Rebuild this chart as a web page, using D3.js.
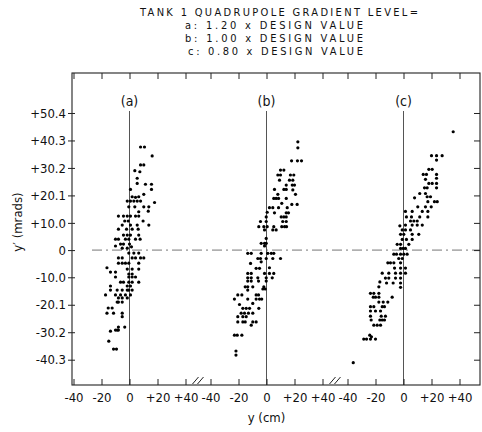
<!DOCTYPE html>
<html>
<head>
<meta charset="utf-8">
<script src="https://cdn.jsdelivr.net/npm/d3@7"></script>
<style>
  html, body { margin: 0; padding: 0; background: #fff; }
  svg { display: block; }
  text { font-family: "DejaVu Sans Condensed", "DejaVu Sans", "Liberation Sans Narrow", sans-serif; font-stretch: condensed; fill: #111; }
</style>
</head>
<body>
<script>
// ---------------- DATA ----------------
const titleLines = [
  "TANK 1 QUADRUPOLE GRADIENT LEVEL=",
  "a:  1.20 x DESIGN  VALUE",
  "b:  1.00 x DESIGN  VALUE",
  "c:  0.80 x DESIGN  VALUE"
];
const categories = ["a", "b", "c"];
const panelLabels = ["(a)", "(b)", "(c)"];
const xTicks = [-40, -20, 0, 20, 40];
const xTickLabels = ["-40", "-20", "0", "+20", "+40"];
const yTicks = [50.4, 40.3, 30.2, 20.1, 10.0, 0, -10.0, -20.1, -30.2, -40.3];
const yTickLabels = ["+50.4", "+40.3", "+30.2", "+20.1", "+10.0", "0", "-10.0", "-20.1", "-30.2", "-40.3"];
const xTitle = "y (cm)";
const yTitle = "y\u2032 (mrads)";

// [y (cm), y' (mrad)]
const seriesA = [
  [7.9,37.9],[10.7,37.9],[16.2,34.6],[7.9,31.3],[10.2,31.3],[3.8,29.2],[7.4,28.8],[5.5,26.4],
  [5.5,24.5],[11.4,24.2],[15.7,24.2],[0.7,22.3],[15.7,22.3],[1.9,19.6],[4.3,19.4],[6.6,19.6],
  [10.2,20.5],[-1.6,18.0],[0.7,18.0],[3.1,18.0],[5.5,18.0],[7.9,18.0],[17.9,17.5],[-0.5,15.9],
  [3.8,15.9],[10.2,15.9],[13.8,15.9],[6.6,14.1],[13.4,14.3],[-7.9,12.5],[-4.3,12.5],[-1.6,12.5],
  [0.7,12.5],[4.3,12.5],[6.6,12.5],[-3.4,10.7],[-0.9,10.7],[9.7,10.7],[-5.2,9.2],[0.7,9.2],
  [5.5,9.2],[13.8,9.2],[-7.9,7.7],[-2.1,7.7],[1.9,7.7],[6.2,7.7],[-4.3,5.5],[-1.6,5.5],
  [0.7,5.5],[6.6,5.5],[-10,4.0],[-7.9,4.0],[-2.9,4.0],[-0.5,4.0],[4.3,4.0],[7.6,4.0],
  [-6.4,2.2],[-4.3,2.2],[0,2.2],[-10,1.5],[-5.2,0.7],[-1.6,0.7],[1.4,1.2],
  [-0.5,-1.1],[3.1,-1.1],[6.6,-1.1],[-7.9,-2.9],[-5.2,-2.9],[1.9,-2.9],[4.3,-2.9],[7.9,-2.9],
  [10.2,-2.9],[-7.9,-4.8],[-5.2,-4.8],[-2.9,-4.8],[-0.5,-4.8],[6.6,-4.8],[-16.1,-6.5],
  [-1.6,-7.0],[1.9,-7.0],[6.6,-7.0],[-13.6,-8.1],[-10,-8.1],[-0.5,-8.8],[1.9,-8.8],
  [-10,-9.9],[-0.5,-9.9],[1.9,-9.9],[4.3,-9.9],[-6.4,-11.8],[-4.3,-11.8],[-0.5,-11.8],
  [1.9,-11.8],[6.6,-11.8],[-13.6,-13.2],[-1.6,-13.2],[0.7,-13.2],[-13.6,-14.7],[-8.8,-14.7],
  [-5.2,-14.7],[-1.6,-14.7],[-0.5,-14.7],[1.9,-14.7],[-17.1,-16.5],[-10,-16.5],[-6.4,-16.5],
  [-2.9,-16.5],[0.7,-16.5],[-7.9,-17.6],[-5.2,-17.6],[-1.6,-17.6],[-8.8,-19.1],[-7.9,-19.1],
  [-5.2,-19.1],[-15.2,-21.3],[-12.4,-21.3],[-16.1,-23.2],[-11.4,-23.2],[-5.2,-23.2],[-5.2,-24.5],
  [-7.9,-28.3],[-3.4,-28.3],[-10,-29.4],[-8.8,-29.4],[-7.9,-29.4],[-13.6,-29.8],[-14.8,-33.5],
  [-11.4,-36.4],[-9.3,-36.4]
];
const seriesB = [
  [22.4,39.8],[22.4,37.6],[17.9,32.8],[22.1,32.8],[25,32.8],[10,29.4],[12.4,29.4],[8.1,27.6],
  [10,27.6],[17.1,27.6],[19.5,27.6],[9.3,25.7],[16.4,25.7],[18.8,25.7],[14.1,23.9],[18.4,23.9],
  [20,23.9],[5.7,22.3],[12.4,22.3],[14.1,22.3],[18.8,22.1],[8.1,20.5],[20.7,20.5],[5.2,19.0],
  [6.9,19.0],[8.6,19.0],[14.1,19.0],[10.9,17.2],[18.1,16.8],[21.9,16.8],[2.1,15.6],[4.5,15.6],
  [8.6,15.6],[14.8,15.6],[0.5,13.9],[5.7,13.7],[14.1,13.7],[15.7,13.7],[-0.2,12.2],[10.5,12.2],
  [12.4,12.2],[14.1,12.2],[-4.3,10.5],[-0.2,10.5],[11.6,10.5],[14.1,10.5],[-5.5,8.6],[-1.9,8.6],
  [0.5,8.6],[5.2,8.6],[10.9,8.6],[12.9,8.6],[14.3,8.6],[-1.4,7.4],[4.5,7.4],[6.9,7.4],
  [-0.2,4.3],[-3.8,2.5],[-1.4,2.5],[-0.2,2.5],[-1.4,1.5],
  [-13.4,-1.2],[-10.9,-1.2],[-3.8,-1.2],[0.9,-1.2],[3.4,-1.2],[5.2,-1.2],[-6.2,-3.1],[-4.3,-3.1],
  [-0.2,-3.1],[4.5,-3.1],[10,-3.1],[-11.4,-4.9],[-3.8,-4.3],[-7.4,-6.7],[-5,-6.7],[2.1,-6.5],
  [-13.4,-8.6],[-10.9,-8.6],[-1.4,-8.6],[2.1,-8.6],[5.2,-8.6],[-13.4,-10.2],[-10.9,-10.2],
  [-6.2,-10.2],[-0.2,-10.2],[4.1,-10.2],[-13.4,-11.4],[-10.9,-11.4],[-5.7,-11.4],[-0.2,-11.4],
  [-15.2,-13.5],[-13.4,-13.5],[-9.8,-13.5],[-1.9,-13.5],[-13.4,-14.7],[-2.6,-14.3],[-0.9,-14.3],
  [-20.5,-16.5],[-17.6,-16.5],[-7.4,-16.5],[-5.7,-16.5],[-22.9,-18],[-13.4,-18],[-7.4,-18],
  [-5,-18],[-3.4,-18],[-19.3,-20],[-9.8,-19.6],[-16.9,-21.4],[-14.5,-21.4],[-12.1,-21.4],
  [-5.5,-21.4],[-18.1,-23.2],[-15.7,-23.2],[-12.9,-23.2],[-9.8,-23.2],[-20.5,-24.5],[-16.9,-24.5],
  [-14.5,-24.5],[-20.5,-26.4],[-16.9,-26.4],[-15.2,-26.4],[-9.8,-26.4],[-7.4,-26.4],[-10.9,-27.6],
  [-22.9,-31.3],[-20.9,-31.3],[-17.6,-31.3],[-21.8,-37.1],[-21.8,-38.6]
];
const seriesC = [
  [35.5,43.5],[20,34.7],[23.6,34.7],[27.6,34.7],[23.6,33.1],[18.1,29.7],[20.5,29.7],[14.1,27.8],
  [16.4,27.8],[23.6,27.8],[15.7,26],[23.6,26.4],[18.1,24.5],[20.5,24.5],[23.6,24.5],[15,22.9],
  [16.9,22.9],[23.6,22.9],[11.6,20.8],[15.7,20.8],[16.9,19.6],[19.3,19.6],[7.9,19.2],[17.4,17.8],
  [22.1,17.8],[24.1,17.8],[10.2,15.9],[15.7,15.9],[19.8,15.9],[1.4,14.2],[6.2,14.2],[13.4,14.2],
  [17.4,14.2],[2.1,12.2],[5.7,12.2],[11.6,12.2],[17.4,12.2],[5,10.7],[7.4,10.7],[9.8,10.7],
  [1.4,9.2],[6.2,9.2],[9.8,9.2],[13.4,9.2],[-2.6,8.9],[-0.9,7.4],[1.4,7.4],[5,7.4],
  [-2.1,5.8],[0.2,5.8],[6.2,5.8],[10.9,5.8],[-0.9,3.9],[2.1,3.9],[6.2,3.9],[-4.5,2.1],
  [-2.1,2.1],[3.8,2.1],[-2.1,0.6],[-0.2,0.6],[1.4,0.6],
  [-6.9,-1.5],[-5,-1.5],[-2.1,-1.5],[0.2,-1.5],[2.6,-1.5],[-3.4,-3.1],[-0.9,-3.1],
  [-11.2,-4.7],[-9.3,-4.7],[-6.9,-4.7],[-2.1,-4.7],[-6.4,-6.6],[-2.1,-6.6],[1.4,-6.6],
  [-15.2,-8.5],[-10.5,-8.5],[-5.7,-8.5],[-2.1,-8.5],[1.4,-8.5],[-12.9,-10.3],[-10.5,-10.3],
  [-5.7,-10.3],[-2.1,-10.3],[-16.9,-11.7],[-12.1,-12.1],[-7.4,-12.1],[-2.1,-12.1],[-17.6,-13.5],
  [-2.1,-13.7],[-23.6,-15.9],[-21.2,-15.9],[-17.6,-15.9],[-21.6,-17.3],[-20,-17.3],[-17.6,-17.3],
  [-8.1,-17.3],[-17.6,-19.1],[-14.5,-19.1],[-11.2,-19.1],[-23.6,-20.8],[-21.2,-20.8],[-15.2,-20.8],
  [-13.6,-20.8],[-23.6,-22.4],[-20,-22.4],[-16.4,-22.4],[-23.6,-24.3],[-15.9,-24.3],[-12.9,-24.3],
  [-23.1,-25.7],[-16.9,-25.7],[-15.2,-25.7],[-13.6,-25.7],[-21.2,-27.6],[-18.8,-27.6],[-16.4,-27.6],
  [-24.1,-31.3],[-22.9,-31.9],[-28.4,-32.7],[-26.4,-32.7],[-23.6,-32.7],[-20,-32.7],[-35.9,-41.4]
];
const panelSeries = [seriesA, seriesB, seriesC];

// ---------------- LAYOUT ----------------
const W = 482, H = 432;
const frame = { left: 72, right: 480, top: 73, bottom: 385 };
const halfPanel = 56;

const svg = d3.select("body").append("svg").attr("width", W).attr("height", H);

const panelX = d3.scalePoint().domain(categories).range([129.5, 403.5]);
const xRel = d3.scaleLinear().domain([-40, 40]).range([-halfPanel, halfPanel]);
const y = d3.scaleLinear().domain([-49.6, 65.1]).range([frame.bottom, frame.top]);

// Title
const title = svg.append("g");
const titleX = [140, 185, 185, 188];
const titleLen = [278, 178, 178, 175];
const titleY = [16, 29, 42, 55];
titleLines.forEach((t, i) => {
  title.append("text")
    .attr("x", titleX[i]).attr("y", titleY[i])
    .attr("font-size", 11)
    .attr("textLength", titleLen[i]).attr("lengthAdjust", "spacing")
    .text(t);
});

// zero line (dash-dot)
svg.append("line")
  .attr("x1", 92).attr("x2", frame.right)
  .attr("y1", y(0)).attr("y2", y(0))
  .attr("stroke", "#666").attr("stroke-width", 0.9)
  .attr("stroke-dasharray", "10,4,2,4");

// Panels
categories.forEach((c, i) => {
  const g = svg.append("g").attr("transform", `translate(${panelX(c)},0)`);
  g.append("line")
    .attr("x1", xRel(0)).attr("x2", xRel(0))
    .attr("y1", 111).attr("y2", frame.bottom)
    .attr("stroke", "#555").attr("stroke-width", 1);
  g.append("text").attr("x", xRel(0)).attr("y", 106)
    .attr("text-anchor", "middle").attr("font-size", 14)
    .text(panelLabels[i]);
  const bAx = g.append("g").attr("transform", `translate(0,${frame.bottom})`)
    .call(d3.axisBottom(xRel).tickValues(xTicks)
      .tickFormat((d, k) => xTickLabels[k]).tickSizeInner(-6).tickSizeOuter(0).tickPadding(8));
  bAx.select(".domain").remove();
  bAx.selectAll(".tick line").attr("stroke", "#222").attr("stroke-width", 1);
  bAx.selectAll(".tick text").attr("font-size", 13).attr("fill", "#111")
    .attr("font-family", "\"DejaVu Sans Condensed\", \"DejaVu Sans\", sans-serif");
  const tAx = g.append("g").attr("transform", `translate(0,${frame.top})`)
    .call(d3.axisTop(xRel).tickValues(xTicks).tickFormat("").tickSizeInner(-6).tickSizeOuter(0));
  tAx.select(".domain").remove();
  tAx.selectAll(".tick line").attr("stroke", "#222").attr("stroke-width", 1);
  g.append("g").selectAll("circle").data(panelSeries[i]).join("circle")
    .attr("cx", d => xRel(d[0])).attr("cy", d => y(d[1]))
    .attr("r", 1.6).attr("fill", "#000");
});

// Break marks between panels
[[0, 1], [1, 2]].forEach(([a, b]) => {
  const mid = (panelX(categories[a]) + xRel(40) + panelX(categories[b]) + xRel(-40)) / 2;
  [-2.5, 2.5].forEach(off => {
    svg.append("line")
      .attr("x1", mid + off - 3).attr("y1", frame.bottom - 1)
      .attr("x2", mid + off + 3).attr("y2", frame.bottom - 8)
      .attr("stroke", "#222").attr("stroke-width", 1);
  });
});

// Left axis
const lAx = svg.append("g").attr("transform", `translate(${frame.left},0)`)
  .call(d3.axisLeft(y).tickValues(yTicks).tickFormat((d, k) => yTickLabels[k])
    .tickSizeInner(4).tickSizeOuter(0).tickPadding(2));
lAx.select(".domain").remove();
lAx.selectAll(".tick line").attr("x2", -4).attr("x1", 3).attr("stroke", "#222");
lAx.selectAll(".tick text").attr("font-size", 13).attr("fill", "#111")
  .attr("font-family", "\"DejaVu Sans Condensed\", \"DejaVu Sans\", sans-serif");

// Right axis ticks
const rAx = svg.append("g").attr("transform", `translate(${frame.right},0)`)
  .call(d3.axisRight(y).tickValues(yTicks).tickFormat("").tickSizeInner(-6).tickSizeOuter(0));
rAx.select(".domain").remove();
rAx.selectAll(".tick line").attr("stroke", "#222");

// Frame
svg.append("rect")
  .attr("x", frame.left).attr("y", frame.top)
  .attr("width", frame.right - frame.left).attr("height", frame.bottom - frame.top)
  .attr("fill", "none").attr("stroke", "#222").attr("stroke-width", 1.1);

// Axis titles
svg.append("text").attr("x", panelX("b")).attr("y", 422)
  .attr("text-anchor", "middle").attr("font-size", 13).text(xTitle);
svg.append("text")
  .attr("transform", `translate(22,${222}) rotate(-90)`)
  .attr("text-anchor", "middle").attr("font-size", 13).text(yTitle);
</script>
</body>
</html>
